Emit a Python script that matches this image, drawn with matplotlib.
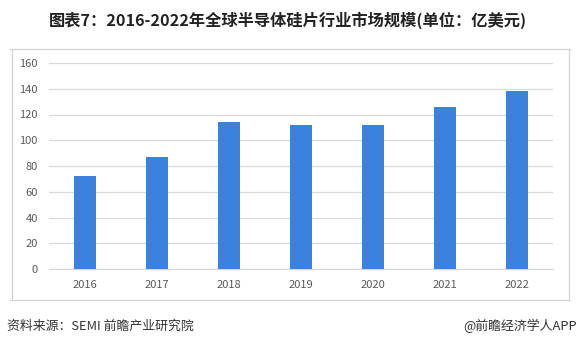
import matplotlib.pyplot as plt
from matplotlib.lines import Line2D

plt.rcParams['font.family'] = ['Noto Sans CJK SC', 'DejaVu Sans']

years = ['2016', '2017', '2018', '2019', '2020', '2021', '2022']
market_size = [72, 87, 114, 112, 112, 126, 138]
y_ticks = [0, 20, 40, 60, 80, 100, 120, 140, 160]

title = '图表7：2016-2022年全球半导体硅片行业市场规模(单位：亿美元)'
source = '资料来源：SEMI 前瞻产业研究院'
credit = '@前瞻经济学人APP'

W, H = 579, 347
fig = plt.figure(figsize=(W / 100, H / 100), dpi=100)
fig.patch.set_facecolor('white')

# plot area in pixels: x 49..553, y 63..269 (top-down)
ax = fig.add_axes([49 / W, 1 - 269 / H, (553 - 49) / W, (269 - 63) / H])
ax.bar(range(len(years)), market_size, width=0.31, color='#3b82de', zorder=3)
ax.set_xlim(-0.5, len(years) - 0.5)
ax.set_ylim(0, 160)
ax.set_yticks(y_ticks)
ax.set_xticks(range(len(years)))
ax.set_xticklabels(years)
ax.grid(axis='y', color='#d9d9d9', linewidth=0.9, zorder=0)
for s in ['top', 'right', 'left']:
    ax.spines[s].set_visible(False)
ax.spines['bottom'].set_color('#d9d9d9')
ax.spines['bottom'].set_linewidth(0.9)
ax.tick_params(length=0, labelsize=8, labelcolor='#595959', pad=8)
ax.tick_params(axis='y', pad=8)

# title, separator and chart frame
fig.text(288 / W, 1 - 20 / H, title, ha='center', va='center', fontsize=11.7,
         fontweight='bold', color='#222222')
frame = '#d4d4d4'
fig.add_artist(Line2D([10 / W, 570 / W], [1 - 49 / H, 1 - 49 / H], color=frame, lw=0.9))
fig.add_artist(Line2D([12 / W, 12 / W], [1 - 50 / H, 1 - 300 / H], color=frame, lw=0.9))
fig.add_artist(Line2D([569 / W, 569 / W], [1 - 50 / H, 1 - 300 / H], color=frame, lw=0.9))
fig.add_artist(Line2D([10 / W, 570 / W], [1 - 300 / H, 1 - 300 / H], color=frame, lw=0.9))

fig.text(7 / W, 1 - 326 / H, source, ha='left', va='center', fontsize=9.3, color='#333333')
fig.text(577 / W, 1 - 326 / H, credit, ha='right', va='center', fontsize=9.3, color='#333333')

fig.savefig('out.png', dpi=100, facecolor='white')
